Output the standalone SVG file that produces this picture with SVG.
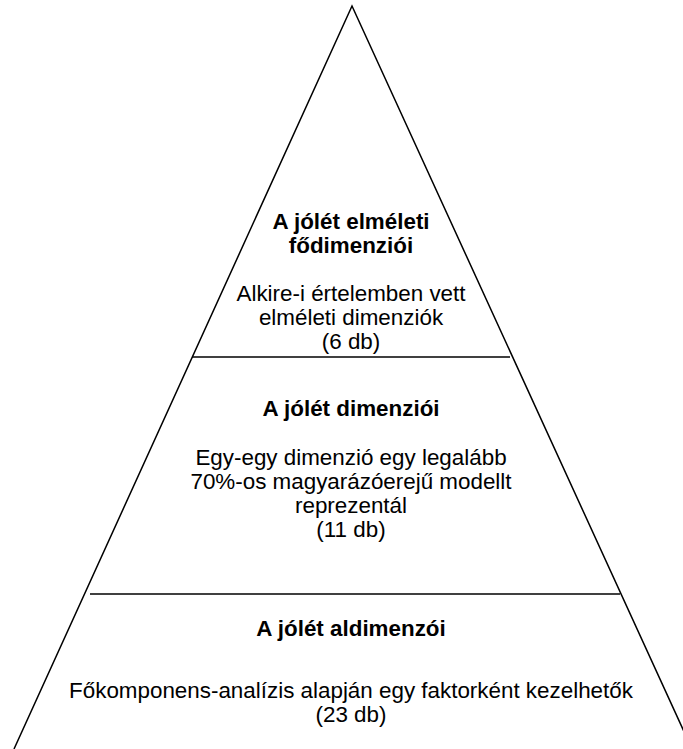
<svg xmlns="http://www.w3.org/2000/svg" width="683" height="749" viewBox="0 0 683 749">
<style>
.ln{stroke:#000;stroke-width:1.5;fill:none}
text{font-family:"Liberation Sans",Arial,sans-serif;font-size:22.4px;fill:#000;text-anchor:middle}
.b{font-weight:bold}
</style>
<rect width="683" height="749" fill="#fff"/>
<g id="connectors">
<path class="ln" d="M14,749 L352,6 L692,749"/>
<line class="ln" x1="192" y1="357" x2="510" y2="357"/>
<line class="ln" x1="90" y1="594" x2="620" y2="594"/>
</g>
<g id="top">
<text class="b" x="351" y="229">A jólét elméleti</text>
<text class="b" x="351" y="253">fődimenziói</text>
<text x="351" y="301">Alkire-i értelemben vett</text>
<text x="351" y="325">elméleti dimenziók</text>
<text x="351" y="349">(6 db)</text>
</g>
<g id="middle">
<text class="b" x="351" y="416">A jólét dimenziói</text>
<text x="351" y="465">Egy-egy dimenzió egy legalább</text>
<text x="351" y="489">70%-os magyarázóerejű modellt</text>
<text x="351" y="513">reprezentál</text>
<text x="351" y="537">(11 db)</text>
</g>
<g id="bottom">
<text class="b" x="351" y="636">A jólét aldimenzói</text>
<text x="351" y="698">Főkomponens-analízis alapján egy faktorként kezelhetők</text>
<text x="351" y="722">(23 db)</text>
</g>
</svg>
